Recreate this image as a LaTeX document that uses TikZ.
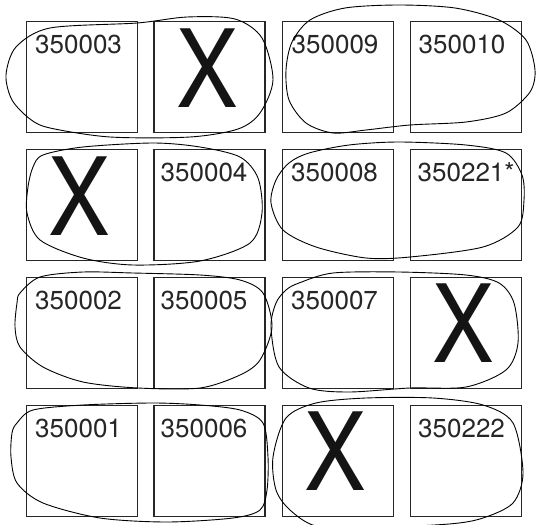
\documentclass[tikz,border=0pt]{standalone}
\usepackage{fontspec}
\setmainfont{TeX Gyre Heros}
\tikzset{
  cell/.style={draw=black!85, line width=1.1pt, minimum width=111pt, minimum height=111pt, inner sep=0pt},
  lbl/.style={anchor=base west, inner sep=0pt, text=black!85, font=\fontsize{26}{26}\selectfont},
  bigx/.style={inner sep=0pt, font=\fontsize{90}{90}\selectfont, xscale=1.03, yscale=1.2, text=black!92},
  blob/.style={draw=black, line width=0.9pt}
}
\begin{document}
\begin{tikzpicture}[x=1pt, y=-1pt]
\useasboundingbox (0,0) rectangle (536,525);
% boxes
\node[cell] (b11) at (82,77) {};
\node[cell] (b12) at (209.5,77) {};
\node[cell] (b13) at (338,77) {};
\node[cell] (b14) at (466,77) {};
\node[cell] (b21) at (82,205) {};
\node[cell] (b22) at (209.5,205) {};
\node[cell] (b23) at (338,205) {};
\node[cell] (b24) at (466,205) {};
\node[cell] (b31) at (82,333) {};
\node[cell] (b32) at (209.5,333) {};
\node[cell] (b33) at (338,333) {};
\node[cell] (b34) at (466,333) {};
\node[cell] (b41) at (82,461) {};
\node[cell] (b42) at (209.5,461) {};
\node[cell] (b43) at (338,461) {};
\node[cell] (b44) at (466,461) {};
% labels
\node[lbl] (t11) at (35,53) {350003};
\node[lbl] (t13) at (291.5,53) {350009};
\node[lbl] (t14) at (418.5,53) {350010};
\node[lbl] (t22) at (160.5,181) {350004};
\node[lbl] (t23) at (291,181) {350008};
\node[lbl] (t24) at (417.5,181) {350221*};
\node[lbl] (t31) at (35,309) {350002};
\node[lbl] (t32) at (160.5,309) {350005};
\node[lbl] (t33) at (291,309) {350007};
\node[lbl] (t41) at (35,437) {350001};
\node[lbl] (t42) at (160.5,437) {350006};
\node[lbl] (t44) at (418,437) {350222};
% crosses
\node[bigx] (x12) at (207,68) {X};
\node[bigx] (x21) at (79.5,196) {X};
\node[bigx] (x34) at (463.5,323.5) {X};
\node[bigx] (x43) at (335.5,451.5) {X};
% freehand loops
\draw[blob] plot[smooth cycle] coordinates {(50,28) (137,23) (187,17) (235,19) (262,38) (273,80) (260,113) (238,129) (190,137) (110,137) (50,128) (30,119) (12,100) (6,75) (16,47)};
\draw[blob] plot[smooth cycle] coordinates {(310,20) (345,8) (399,5) (455,8) (499,20) (526,40) (535,70) (530,92) (506,113) (466,122) (410,125) (366,130) (333,133) (306,123) (289,100) (286,70) (292,42)};
\draw[blob] plot[smooth cycle] coordinates {(43,155) (83,147) (153,143) (200,147) (240,157) (258,178) (262,213) (250,243) (200,261) (133,265) (83,258) (40,240) (27,213) (28,187) (33,167)};
\draw[blob] plot[smooth cycle] coordinates {(289,163) (309,153) (349,145) (399,142) (466,145) (506,153) (522,175) (524,200) (518,227) (483,247) (410,257) (366,258) (316,247) (283,230) (271,203) (276,180)};
\draw[blob] plot[smooth cycle] coordinates {(20,293) (40,277) (83,272) (133,273) (200,275) (240,280) (263,293) (272,327) (260,360) (240,375) (200,388) (138,388) (83,382) (43,367) (20,347) (15,327) (17,303)};
\draw[blob] plot[smooth cycle] coordinates {(286,290) (299,283) (333,273) (399,272) (466,275) (499,283) (514,303) (518,343) (506,370) (466,387) (410,388) (349,392) (309,388) (279,367) (271,327) (276,303)};
\draw[blob] plot[smooth cycle] coordinates {(17,423) (33,410) (83,405) (153,403) (200,405) (240,410) (263,423) (268,457) (267,490) (260,510) (233,518) (167,522) (100,518) (43,503) (17,483) (11,457) (12,433)};
\draw[blob] plot[smooth cycle] coordinates {(286,418) (316,403) (366,398) (433,398) (483,405) (513,423) (523,473) (513,503) (483,518) (449,524) (366,528) (316,526) (290,510) (276,490) (273,457)};
\end{tikzpicture}
\end{document}
